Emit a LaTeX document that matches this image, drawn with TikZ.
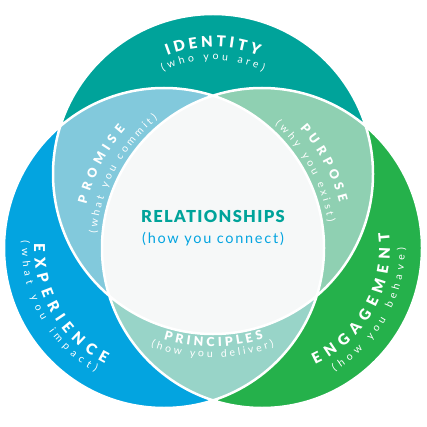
\documentclass[tikz,border=0pt]{standalone}
\usepackage{fontspec}
\setmainfont{Lato}
\newfontfamily\heavyfont{Lato Black}
\newfontfamily\relfont{Lato Black}[LetterSpace=8]
\newfontfamily\connectfont{Lato}[LetterSpace=12]
\usetikzlibrary{positioning}
\usetikzlibrary{calc}
\usetikzlibrary{decorations.text}

\definecolor{identityteal}{RGB}{0,163,154}
\definecolor{experienceblue}{RGB}{3,164,224}
\definecolor{engagementgreen}{RGB}{37,177,75}
\definecolor{promiseblue}{RGB}{130,201,220}
\definecolor{purposegreen}{RGB}{143,208,178}
\definecolor{principlesteal}{RGB}{152,212,200}
\definecolor{relationgray}{RGB}{246,248,248}

\newcommand{\titlesize}{\heavyfont\fontsize{15}{15}\selectfont}
\newcommand{\innersize}{\heavyfont\fontsize{12.5}{12.5}\selectfont}
\newcommand{\subsize}{\fontsize{10.5}{10.5}\selectfont}

\tikzset{
  curved/.style = {decorate, decoration={text along path, text color=white,
      text align={fit to path}, text={#1}}},
  outline/.style = {draw=white, line width=2.5pt}
}

\begin{document}
\begin{tikzpicture}[x=1pt, y=1pt]
  \useasboundingbox (0,0) rectangle (427,426);
  \coordinate (identity) at (213,252);
  \coordinate (experience) at (164,178);
  \coordinate (engagement) at (262,178);

  % the three circles
  \fill [identityteal] (identity) circle (160);
  \fill [experienceblue] (experience) circle (160);
  \fill [engagementgreen] (engagement) circle (160);

  % overlaps
  \begin{scope}
    \clip (identity) circle (160);
    \fill [promiseblue] (experience) circle (160);
    \fill [purposegreen] (engagement) circle (160);
  \end{scope}
  \begin{scope}
    \clip (experience) circle (160);
    \fill [principlesteal] (engagement) circle (160);
  \end{scope}
  \begin{scope}
    \clip (identity) circle (160);
    \clip (experience) circle (160);
    \fill [relationgray] (engagement) circle (160);
  \end{scope}

  \draw [outline] (identity) circle (160) (experience) circle (160)
    (engagement) circle (160);

  % outer labels
  \path [curved={|\titlesize|IDENTITY}]
    ($(identity)+(111:127)$) arc [start angle=111, end angle=69, radius=127];
  \path [curved={|\subsize|(who you are)}]
    ($(identity)+(116:114)$) arc [start angle=116, end angle=64, radius=114];
  \path [curved={|\titlesize|EXPERIENCE}]
    ($(experience)+(178:130)$) arc [start angle=178, end angle=243, radius=130];
  \path [curved={|\subsize|(what you impact)}]
    ($(experience)+(177:142)$) arc [start angle=177, end angle=241, radius=142];
  \path [curved={|\titlesize|ENGAGEMENT}]
    ($(engagement)+(294.5:128)$) arc [start angle=294.5, end angle=367, radius=128];
  \path [curved={|\subsize|(how you behave)}]
    ($(engagement)+(300.5:143)$) arc [start angle=300.5, end angle=360, radius=143];

  % inner labels
  \path [curved={|\innersize|PROMISE}]
    ($(engagement)+(166:181)$) arc [start angle=166, end angle=139, radius=181];
  \path [curved={|\subsize|(what you commit)}]
    ($(engagement)+(175:166)$) arc [start angle=175, end angle=129, radius=166];
  \path [curved={|\innersize|PURPOSE}]
    ($(experience)+(41.4:181)$) arc [start angle=41.4, end angle=14.5, radius=181];
  \path [curved={|\subsize|(why you exist)}]
    ($(experience)+(48:166)$) arc [start angle=48, end angle=9, radius=166];
  \path [curved={|\innersize|PRINCIPLES}]
    ($(identity)+(253.4:172.5)$) arc [start angle=253.4, end angle=287, radius=172.5];
  \path [curved={|\subsize|(how you deliver)}]
    ($(identity)+(250.2:183.5)$) arc [start angle=250.2, end angle=289.5, radius=183.5];

  % centre
  \node (relationships) at (213,210) [text=identityteal,
    font=\relfont\fontsize{16.5}{16.5}\selectfont] {RELATIONSHIPS};
  \node (connect) [below=3pt of relationships, text=experienceblue,
    font=\connectfont\fontsize{14.5}{14.5}\selectfont] {(how you connect)};
\end{tikzpicture}
\end{document}
